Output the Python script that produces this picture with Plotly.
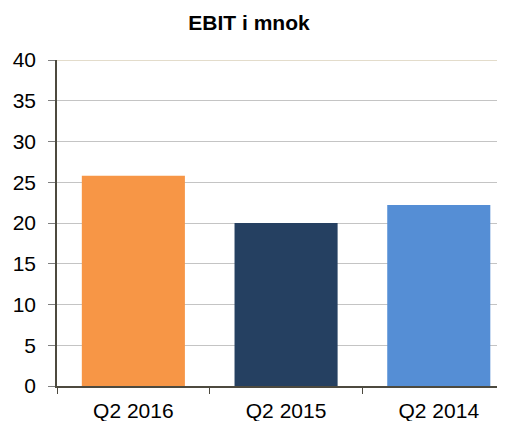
import plotly.graph_objects as go

categories = ["Q2 2016", "Q2 2015", "Q2 2014"]
ebit_values = [25.8, 20.0, 22.2]
bar_colors = ["#F79646", "#254061", "#558ED5"]
y_ticks = [0, 5, 10, 15, 20, 25, 30, 35, 40]

fig = go.Figure(
    go.Bar(
        x=categories,
        y=ebit_values,
        marker=dict(color=bar_colors, line=dict(width=0)),
        width=0.675,
        hoverinfo="x+y",
    )
)

# page body has an 8px default margin; the plot runs past the right edge as in the reference
fig.update_layout(
    width=505,
    height=413,
    margin=dict(l=49, r=0, t=52, b=35),
    paper_bgcolor="white",
    plot_bgcolor="white",
    showlegend=False,
    font=dict(family="Liberation Sans, Arial, sans-serif", size=21, color="#000000"),
    title=dict(
        text="<b>EBIT i mnok</b>",
        x=241 / 505,
        xanchor="center",
        y=0.965,
        yanchor="middle",
        font=dict(family="Liberation Sans, Arial, sans-serif", size=21, color="#000000"),
    ),
)

fig.update_xaxes(
    type="category",
    range=[-0.5, 2.486],
    showline=True,
    linecolor="#4d4a3f",
    linewidth=1.5,
    ticks="outside",
    tickson="boundaries",
    ticklen=6,
    tickcolor="#4d4a3f",
    showgrid=False,
    tickfont=dict(size=21),
    ticklabelstandoff=5,
)

fig.update_yaxes(
    range=[0, 40],
    tickvals=y_ticks,
    showline=True,
    linecolor="#4d4a3f",
    linewidth=1.5,
    ticks="outside",
    ticklen=7,
    tickcolor="#7f7f7f",
    showgrid=True,
    gridcolor="#c4c4c4",
    gridwidth=1,
    zeroline=False,
    tickfont=dict(size=21),
    ticklabelstandoff=8,
)

fig.add_shape(
    type="line",
    xref="paper",
    yref="y",
    x0=0,
    x1=1,
    y0=40,
    y1=40,
    line=dict(color="#e3dccb", width=2),
    layer="above",
)

fig.write_html("out.html")
